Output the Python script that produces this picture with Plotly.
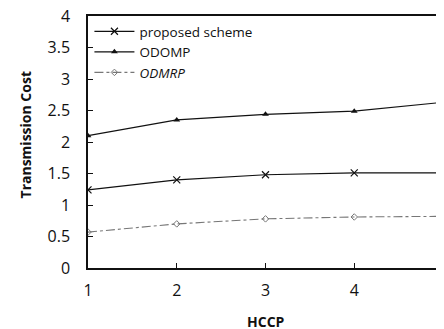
import plotly.graph_objects as go

hccp = [1, 2, 3, 4, 5]
proposed = [1.24, 1.40, 1.48, 1.51, 1.51]
odomp = [2.10, 2.35, 2.44, 2.49, 2.63]
odmrp = [0.57, 0.70, 0.78, 0.81, 0.82]
y_ticks = [0, 0.5, 1, 1.5, 2, 2.5, 3, 3.5, 4]
y_tick_text = ["0", "0.5", "1", "1.5", "2", "2.5", "3", "3.5", "4"]

fig = go.Figure()
fig.add_trace(go.Scatter(x=hccp, y=proposed, name="proposed scheme", mode="lines+markers",
                         line=dict(color="#111", width=1.2),
                         marker=dict(symbol="x-thin", size=7, line=dict(color="#111", width=1.2))))
fig.add_trace(go.Scatter(x=hccp, y=odomp, name="ODOMP", mode="lines+markers",
                         line=dict(color="#111", width=1.2),
                         marker=dict(symbol="triangle-up", size=6, color="#111")))
fig.add_trace(go.Scatter(x=hccp, y=odmrp, name="<i>ODMRP</i>", mode="lines+markers",
                         line=dict(color="#777", width=1.1, dash="dashdot"),
                         marker=dict(symbol="diamond-open", size=5, color="#777", line=dict(width=1))))

fig.update_layout(
    width=444, height=329,
    margin=dict(l=80, r=9, t=8, b=69),
    paper_bgcolor="white", plot_bgcolor="white",
    font=dict(family="Open Sans, Liberation Sans, sans-serif", color="#111", size=14),
    showlegend=True,
    legend=dict(x=0.004, y=1.0, xanchor="left", yanchor="top", bgcolor="rgba(0,0,0,0)",
                font=dict(size=13.5), tracegroupgap=0, itemwidth=40),
    xaxis=dict(range=[1, 5], tickvals=hccp, ticks="inside", ticklen=5, tickcolor="#111",
               showline=True, linecolor="#111", linewidth=1.5, mirror=True, showgrid=False,
               zeroline=False, ticklabelstandoff=7, tickfont=dict(size=16), automargin=False,
               ticklabeloverflow="allow"),
    yaxis=dict(range=[0, 4], tickvals=y_ticks, ticktext=y_tick_text, ticks="inside", ticklen=5,
               tickcolor="#111", showline=True, linecolor="#111", linewidth=1.5, mirror=True,
               showgrid=False, zeroline=False, ticklabelstandoff=13, tickfont=dict(size=16),
               automargin=False, ticklabeloverflow="allow"),
    annotations=[
        dict(text="<b>HCCP</b>", xref="paper", yref="paper", x=0.5, y=-0.214,
             xanchor="center", yanchor="middle", showarrow=False, font=dict(size=14)),
        dict(text="<b>Transmission Cost</b>", xref="paper", yref="paper", x=-0.176, y=0.528,
             xanchor="center", yanchor="middle", textangle=-90, showarrow=False,
             font=dict(size=14)),
    ],
)

fig.write_html("out.html")
